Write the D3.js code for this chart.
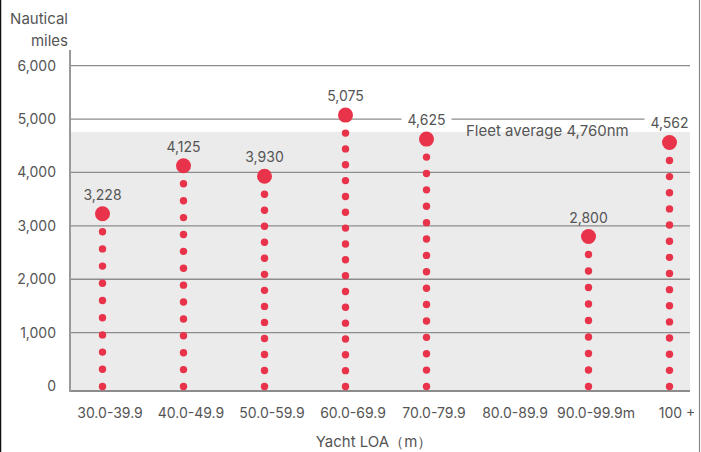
<!DOCTYPE html>
<html>
<head>
<meta charset="utf-8">
<script src="https://cdn.jsdelivr.net/npm/d3@7"></script>
<style>
  html, body { margin: 0; padding: 0; background: #fff; }
  svg { display: block; }
  text { font-family: Inter, "Open Sans", sans-serif; fill: #555; font-weight: 400; }
</style>
</head>
<body>
<svg id="chart" width="701" height="452"></svg>
<script>
// Average distance sailed by yacht length band
const categories = ["30.0-39.9", "40.0-49.9", "50.0-59.9", "60.0-69.9", "70.0-79.9", "80.0-89.9", "90.0-99.9m", "100 +"];
const distances  = [3228, 4125, 3930, 5075, 4625, null, 2800, 4562];
const fleetAverage = 4760;
const yTicks = [0, 1000, 2000, 3000, 4000, 5000, 6000];

const svg = d3.select("#chart");
const W = 701, H = 452;
const left = 70, right = 690;
const fontFamily = "Inter, 'Open Sans', sans-serif";
const fs = 14;      // numbers
const fsWords = 15; // titles and notes

const y = d3.scaleLinear().domain([0, 6000]).range([386, 65.7]);
const x = d3.scalePoint().domain(categories).range([102.5, 669.5]).padding(0);
const baseY = y(0) + 5;

const red = "#e8334a";
const fmt = d3.format(",");

// outer frame edges
svg.append("line").attr("x1", 0.5).attr("x2", 0.5).attr("y1", 0).attr("y2", H)
  .attr("stroke", "#111").attr("stroke-width", 1.5);
svg.append("line").attr("x1", 699.5).attr("x2", 699.5).attr("y1", 0).attr("y2", H)
  .attr("stroke", "#888").attr("stroke-width", 1.2);

// fleet average band
svg.append("rect")
  .attr("x", left).attr("width", right - left)
  .attr("y", y(fleetAverage)).attr("height", baseY - y(fleetAverage))
  .attr("fill", "#ebebeb");

// horizontal gridlines
svg.append("g").selectAll("line")
  .data(yTicks.filter(d => d > 0))
  .join("line")
  .attr("x1", left).attr("x2", right)
  .attr("y1", d => y(d)).attr("y2", d => y(d))
  .attr("stroke", "#8c8c8c").attr("stroke-width", 1.3);

// baseline and vertical axis line
svg.append("line").attr("x1", left).attr("x2", right).attr("y1", baseY).attr("y2", baseY)
  .attr("stroke", "#8c8c8c").attr("stroke-width", 2);
svg.append("line").attr("x1", left).attr("x2", left).attr("y1", 50).attr("y2", baseY + 1)
  .attr("stroke", "#999").attr("stroke-width", 2);

// y tick labels
const yAxis = svg.append("g")
  .attr("transform", `translate(${left - 14},0)`)
  .call(d3.axisLeft(y).tickValues(yTicks).tickSize(0).tickPadding(0).tickFormat(fmt));
yAxis.select(".domain").remove();
yAxis.selectAll("text")
  .attr("font-size", fs).attr("fill", "#555")
  .style("font-family", fontFamily).style("font-weight", 400);

// y axis title
svg.append("text").attr("x", 68).attr("y", 24).attr("text-anchor", "end")
  .attr("font-size", fsWords).text("Nautical");
svg.append("text").attr("x", 68).attr("y", 46).attr("text-anchor", "end")
  .attr("font-size", fsWords).text("miles");

// x tick labels
const xAxis = svg.append("g")
  .attr("transform", `translate(0,${baseY})`)
  .call(d3.axisBottom(x).tickSize(0).tickPadding(0));
xAxis.select(".domain").remove();
xAxis.selectAll("text")
  .attr("dy", 0).attr("y", 27).attr("dx", 7)
  .attr("font-size", fs).attr("fill", "#555")
  .style("font-family", fontFamily).style("font-weight", 400);

// x axis title
svg.append("text").attr("x", 374).attr("y", 447).attr("text-anchor", "middle")
  .attr("font-size", fsWords).text("Yacht LOA（m）");

// fleet average label
svg.append("text").attr("x", 466).attr("y", 136)
  .attr("font-size", fsWords).text("Fleet average " + fmt(fleetAverage) + "nm");

const points = categories.map((c, i) => ({ cat: c, value: distances[i] })).filter(d => d.value != null);

// dotted stems from zero up to each value
const stems = svg.append("g");
points.forEach(d => {
  const top = y(d.value) + 18, bottom = y(0) + 0.5;
  const n = Math.round((bottom - top) / 16.3);
  const step = (bottom - top) / n;
  stems.selectAll(null)
    .data(d3.range(n + 1).map(k => bottom - k * step))
    .join("circle")
    .attr("cx", x(d.cat)).attr("cy", v => v)
    .attr("r", 3.7).attr("fill", red);
});

// white label backgrounds, only outside the shaded band
svg.append("clipPath").attr("id", "aboveBand")
  .append("rect").attr("x", 0).attr("y", 0).attr("width", W).attr("height", y(fleetAverage));
svg.append("g").attr("clip-path", "url(#aboveBand)")
  .selectAll("rect").data(points).join("rect")
  .attr("x", d => x(d.cat) - 25).attr("width", 50)
  .attr("y", d => y(d.value) - 28).attr("height", 18)
  .attr("fill", "#fff");

// end markers
svg.append("g").selectAll("circle").data(points).join("circle")
  .attr("cx", d => x(d.cat)).attr("cy", d => y(d.value))
  .attr("r", 7.5).attr("fill", red);

// value labels
svg.append("g").selectAll("text").data(points).join("text")
  .attr("x", d => x(d.cat)).attr("y", d => y(d.value) - 14)
  .attr("text-anchor", "middle").attr("font-size", fs)
  .text(d => fmt(d.value));
</script>
</body>
</html>
